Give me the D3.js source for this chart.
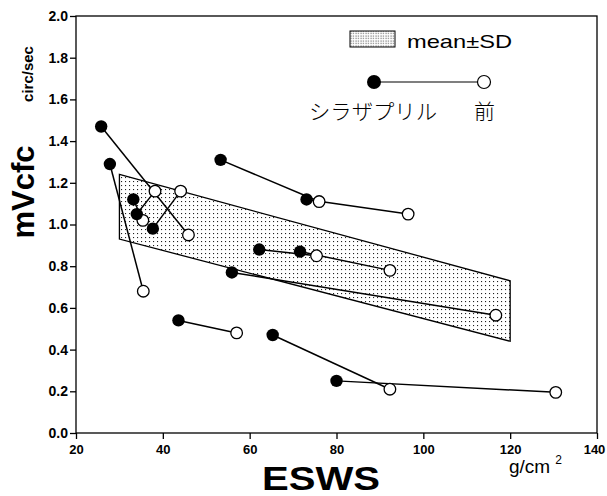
<!DOCTYPE html>
<html>
<head>
<meta charset="utf-8">
<script src="https://cdn.jsdelivr.net/npm/d3@7"></script>
<style>
  body { margin: 0; background: #fff; }
  svg { display: block; }
</style>
</head>
<body>
<div id="chart"></div>
<script>
// ESWS (g/cm2) and mVcfc (circ/sec), after cilazapril (filled) and before (open)
const afterESWS  = [25.8, 27.8, 33.2, 34.0, 37.7, 53.3, 73.1, 62.2, 71.6, 55.9, 43.6, 65.3, 80.0];
const afterVcfc  = [1.47, 1.29, 1.12, 1.05, 0.98, 1.31, 1.12, 0.88, 0.87, 0.77, 0.54, 0.47, 0.25];
const beforeESWS = [45.9, 35.5, 35.4, 38.2, 44.1, 76.0, 96.5, 75.4, 92.3, 116.7, 57.0, 92.3, 130.5];
const beforeVcfc = [0.95, 0.68, 1.02, 1.16, 1.16, 1.11, 1.05, 0.85, 0.78, 0.565, 0.48, 0.21, 0.195];

// mean ± SD band
const bandESWS  = [30, 120];
const bandUpper = [1.24, 0.73];
const bandLower = [0.93, 0.44];

const xTicks = [20, 40, 60, 80, 100, 120, 140];
const yTicks = [0, 0.2, 0.4, 0.6, 0.8, 1.0, 1.2, 1.4, 1.6, 1.8, 2.0];

const width = 607;
const height = 496;
const plot = {left: 76, right: 597, top: 16, bottom: 433};

const svg = d3.select("#chart")
  .append("svg")
    .attr("width", width)
    .attr("height", height);

// stipple patterns
const defs = svg.append("defs");
defs.append("pattern")
    .attr("id", "dots")
    .attr("width", 4).attr("height", 4)
    .attr("patternUnits", "userSpaceOnUse")
  .append("rect")
    .attr("x", 1).attr("y", 1)
    .attr("width", 1.1).attr("height", 1.1)
    .attr("fill", "#222");
defs.append("pattern")
    .attr("id", "dotsDense")
    .attr("width", 2.5).attr("height", 2.5)
    .attr("patternUnits", "userSpaceOnUse")
  .append("rect")
    .attr("x", 0.5).attr("y", 0.5)
    .attr("width", 1).attr("height", 1)
    .attr("fill", "#333");

const xScale = d3.scaleLinear()
  .domain([20, 140])
  .range([plot.left, plot.right]);
const yScale = d3.scaleLinear()
  .domain([0, 2])
  .range([plot.bottom, plot.top]);

// frame
svg.append("rect")
  .attr("x", plot.left)
  .attr("y", plot.top)
  .attr("width", plot.right - plot.left)
  .attr("height", plot.bottom - plot.top)
  .attr("fill", "none")
  .attr("stroke", "#000")
  .attr("stroke-width", 1.3);

// band
const bandPts = [
  [bandESWS[0], bandUpper[0]],
  [bandESWS[1], bandUpper[1]],
  [bandESWS[1], bandLower[1]],
  [bandESWS[0], bandLower[0]]
];
svg.append("polygon")
  .attr("points", bandPts.map(d => [xScale(d[0]), yScale(d[1])].join(",")).join(" "))
  .attr("fill", "url(#dots)")
  .attr("stroke", "#000")
  .attr("stroke-width", 1.3);

// axes
const bottomAxis = d3.axisBottom(xScale)
  .tickValues(xTicks)
  .tickSize(6)
  .tickPadding(6)
  .tickFormat(d3.format("d"));
svg.append("g")
  .attr("transform", `translate(0, ${plot.bottom})`)
  .call(bottomAxis)
  .call(g => g.select(".domain").remove())
  .call(g => g.selectAll(".tick text")
    .style("font-size", "13px")
    .attr("dx", d => d === 140 ? -3 : 0));

const leftAxis = d3.axisLeft(yScale)
  .tickValues(yTicks)
  .tickSize(6)
  .tickPadding(2)
  .tickFormat(d3.format(".1f"));
svg.append("g")
  .attr("transform", `translate(${plot.left}, 0)`)
  .call(leftAxis)
  .call(g => g.select(".domain").remove())
  .call(g => g.selectAll(".tick text").style("font-size", "14px"));

svg.selectAll(".tick line")
  .attr("stroke", "#000")
  .attr("stroke-width", 1.3);
svg.selectAll(".tick text")
  .attr("fill", "#000")
  .style("font-family", "'Liberation Sans', Arial, sans-serif")
  .style("font-weight", "bold");

// pair lines
const pairs = afterESWS.map((x, i) => ({
  x0: x, y0: afterVcfc[i], x1: beforeESWS[i], y1: beforeVcfc[i]
}));
svg.append("g")
  .selectAll("line")
  .data(pairs)
  .join("line")
    .attr("x1", d => xScale(d.x0))
    .attr("y1", d => yScale(d.y0))
    .attr("x2", d => xScale(d.x1))
    .attr("y2", d => yScale(d.y1))
    .attr("stroke", "#000")
    .attr("stroke-width", 1.5);

// before (open)
svg.append("g")
  .selectAll("circle")
  .data(pairs)
  .join("circle")
    .attr("cx", d => xScale(d.x1))
    .attr("cy", d => yScale(d.y1))
    .attr("r", 5.8)
    .attr("fill", "#fff")
    .attr("stroke", "#000")
    .attr("stroke-width", 1.3);

// after (filled)
svg.append("g")
  .selectAll("circle")
  .data(pairs)
  .join("circle")
    .attr("cx", d => xScale(d.x0))
    .attr("cy", d => yScale(d.y0))
    .attr("r", 6.2)
    .attr("fill", "#000");

// legend
const legend = svg.append("g");
legend.append("rect")
  .attr("x", 350).attr("y", 31)
  .attr("width", 45).attr("height", 16)
  .attr("fill", "url(#dotsDense)")
  .attr("stroke", "#000")
  .attr("stroke-width", 1);
legend.append("text")
  .attr("x", 407).attr("y", 48)
  .attr("textLength", 105)
  .attr("lengthAdjust", "spacingAndGlyphs")
  .style("font-family", "'Liberation Sans', Arial, sans-serif")
  .style("font-size", "19px")
  .text("mean±SD");
legend.append("line")
  .attr("x1", 374).attr("y1", 82)
  .attr("x2", 484).attr("y2", 82)
  .attr("stroke", "#000")
  .attr("stroke-width", 1.2);
legend.append("circle")
  .attr("cx", 374).attr("cy", 82).attr("r", 7)
  .attr("fill", "#000");
legend.append("circle")
  .attr("cx", 484).attr("cy", 82).attr("r", 6.5)
  .attr("fill", "#fff")
  .attr("stroke", "#000")
  .attr("stroke-width", 1.2);
legend.append("text")
  .attr("x", 309).attr("y", 119)
  .attr("textLength", 128)
  .attr("lengthAdjust", "spacingAndGlyphs")
  .style("font-family", "'Noto Sans CJK JP', sans-serif")
  .style("font-weight", 300)
  .style("font-size", "21px")
  .text("シラザプリル");
legend.append("text")
  .attr("x", 474).attr("y", 119)
  .style("font-family", "'Noto Sans CJK JP', sans-serif")
  .style("font-weight", 300)
  .style("font-size", "21px")
  .text("前");

// axis titles
svg.append("text")
  .attr("transform", "translate(34, 192) rotate(-90)")
  .attr("text-anchor", "middle")
  .style("font-family", "'Liberation Sans', Arial, sans-serif")
  .style("font-weight", "bold")
  .style("font-size", "31px")
  .text("mVcfc");
svg.append("text")
  .attr("transform", "translate(33, 74) rotate(-90)")
  .attr("text-anchor", "middle")
  .style("font-family", "'Liberation Sans', Arial, sans-serif")
  .style("font-weight", "bold")
  .style("font-size", "15px")
  .text("circ/sec");
svg.append("text")
  .attr("x", 262).attr("y", 490)
  .attr("textLength", 118)
  .attr("lengthAdjust", "spacingAndGlyphs")
  .style("font-family", "'Liberation Sans', Arial, sans-serif")
  .style("font-weight", "bold")
  .style("font-size", "34px")
  .text("ESWS");
const unit = svg.append("text")
  .attr("x", 509).attr("y", 473)
  .style("font-family", "'Liberation Sans', Arial, sans-serif")
  .style("font-size", "19px");
unit.append("tspan").text("g/cm");
unit.append("tspan")
  .attr("dx", 5).attr("dy", -9)
  .style("font-size", "12px")
  .text("2");
</script>
</body>
</html>
